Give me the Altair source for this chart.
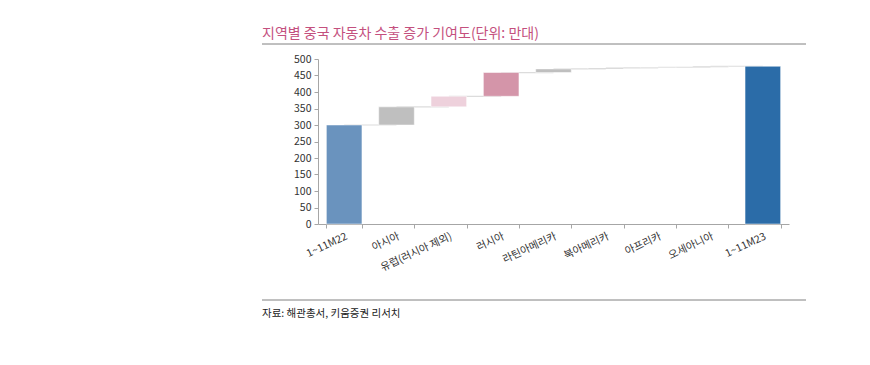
import altair as alt
import pandas as pd

categories = ["1~11M22", "아시아", "유럽(러시아 제외)", "러시아", "라틴아메리카",
              "북아메리카", "아프리카", "오세아니아", "1~11M23"]
# first and last are totals, the rest are increments (만대)
values = [300, 55, 32, 72, 11, 3, 2, 3, 478]
bar_colors = ["#6A93BE", "#BFBFBF", "#EED1DC", "#D495A9", "#BFBFBF",
              "#BFBFBF", "#BFBFBF", "#BFBFBF", "#2B6CA8"]
y_ticks = [0, 50, 100, 150, 200, 250, 300, 350, 400, 450, 500]

title_text = "지역별 중국 자동차 수출 증가 기여도(단위: 만대)"
source_text = "자료: 해관총서, 키움증권 리서치"

rows = []
level = 0
for i, (c, v) in enumerate(zip(categories, values)):
    if i == 0 or i == len(categories) - 1:
        start, end = 0, v
        level = v
    else:
        start, end = level, level + v
        level = end
    nxt = categories[i + 1] if i + 1 < len(categories) else c
    rows.append({"cat": c, "start": start, "end": end, "next": nxt, "order": i})
df = pd.DataFrame(rows)
conn = df.iloc[:-1]

FONT = "Noto Sans CJK KR"
xaxis = alt.Axis(labelAngle=-25, labelAlign="right", labelBaseline="top",
                 labelFont=FONT, labelFontSize=10.5, labelColor="#333333",
                 tickBand="extent", domainColor="#A6A6A6", tickColor="#A6A6A6",
                 tickSize=4, labelPadding=3, labelOverlap=False, title=None)
yaxis = alt.Axis(values=y_ticks, grid=False, labelOverlap=False, labelFlush=False,
                 labelFont=FONT, labelFontSize=10.5, labelColor="#333333",
                 domainColor="#A6A6A6", tickColor="#A6A6A6", tickSize=4,
                 labelPadding=3, title=None)
xscale = alt.Scale(paddingInner=0.32, paddingOuter=0.16)
yscale = alt.Scale(domain=[0, 500], nice=False)

connectors = alt.Chart(conn).mark_rule(color="#DCDCDC", strokeWidth=1.2).encode(
    x=alt.X("cat:N", sort=categories, scale=xscale, axis=xaxis),
    x2=alt.X2("next"),
    y=alt.Y("end:Q", scale=yscale, axis=yaxis),
)

bars = alt.Chart(df).mark_bar(stroke="white", strokeWidth=0.5).encode(
    x=alt.X("cat:N", sort=categories, scale=xscale, axis=xaxis),
    y=alt.Y("start:Q", scale=yscale, axis=yaxis),
    y2="end:Q",
    color=alt.Color("cat:N", scale=alt.Scale(domain=categories, range=bar_colors), legend=None),
)

one = pd.DataFrame({"t": [title_text], "s": [source_text]})
title = alt.Chart(one).mark_text(align="left", baseline="middle", font=FONT,
                                 fontSize=14, color="#C4507E").encode(
    x=alt.value(-56), y=alt.value(-25), text="t:N")
top_rule = alt.Chart(one).mark_rule(color="#808080", strokeWidth=1).encode(
    x=alt.value(-56), x2=alt.value(488), y=alt.value(-15))
bottom_rule = alt.Chart(one).mark_rule(color="#808080", strokeWidth=1).encode(
    x=alt.value(-56), x2=alt.value(488), y=alt.value(241))
source = alt.Chart(one).mark_text(align="left", baseline="middle", font=FONT,
                                  fontSize=10.5, color="#222222").encode(
    x=alt.value(-56), y=alt.value(255), text="s:N")

chart = alt.layer(connectors, bars, title, top_rule, bottom_rule, source).properties(
    width=471, height=165,
    autosize=alt.AutoSizeParams(type="none"),
    padding={"left": 310, "top": 51, "right": 50, "bottom": 120},
).configure_view(stroke=None)

chart.save("out.html", embed_options={"renderer": "svg", "actions": False})
